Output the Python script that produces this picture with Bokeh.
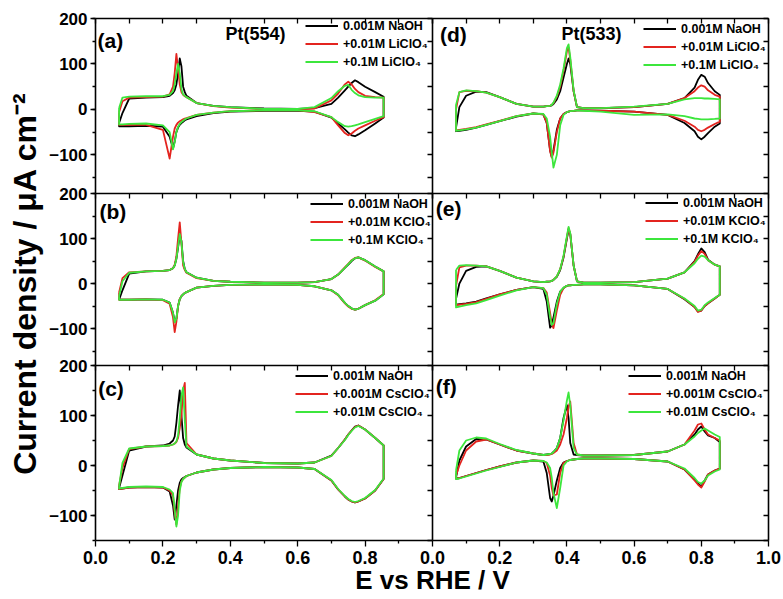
import math
from bokeh.plotting import figure
from bokeh.models import (Range1d, LinearAxis, SingleIntervalTicker, FixedTicker,
                          NumeralTickFormatter, Legend, LegendItem)
from bokeh.core.properties import value
from bokeh.embed import file_html
from bokeh.resources import INLINE

# ---------------- data (potential in V vs RHE, current density in uA cm-2) -------------
pot_554 = [0.07, 0.08, 0.10, 0.15, 0.20, 0.22, 0.23, 0.235, 0.24, 0.245, 0.25, 0.255, 0.26, 0.265,
           0.27, 0.30, 0.35, 0.40, 0.50, 0.60, 0.65, 0.70, 0.72, 0.74, 0.75, 0.76, 0.77, 0.78,
           0.80, 0.83, 0.855]
pot_533 = [0.07, 0.08, 0.10, 0.13, 0.16, 0.20, 0.25, 0.30, 0.33, 0.34, 0.35, 0.355, 0.36, 0.37,
           0.38, 0.39, 0.40, 0.405, 0.41, 0.42, 0.43, 0.45, 0.50, 0.60, 0.70, 0.75, 0.78, 0.79,
           0.80, 0.81, 0.82, 0.84, 0.855]

# (a) Pt(554) + LiClO4
a_naoh_up = [-30, -8, 24, 26, 27, 30, 36, 42, 55, 80, 112, 95, 50, 38, 30, 14, 8, 5, 2, 1, 3, 12, 26, 42, 50, 58, 64, 60, 50, 38, 28]
a_naoh_dn = [-37, -37, -37, -36, -38, -60, -86, -70, -50, -40, -34, -30, -27, -24, -22, -15, -8, -5, -3, -3, -5, -18, -31, -44, -51, -57, -59, -55, -46, -31, -18]
a_li001_up = [-6, 18, 26, 27, 28, 33, 50, 80, 122, 90, 55, 38, 32, 29, 27, 14, 7, 4, 1, 0, 2, 20, 35, 55, 61, 55, 45, 38, 30, 27, 26]
a_li001_dn = [-34, -34, -34, -34, -45, -108, -60, -42, -34, -29, -26, -24, -22, -20, -19, -12, -7, -4, -2, -2, -6, -17, -35, -52, -57, -53, -47, -42, -35, -25, -17]
a_li01_up = [3, 26, 28, 29, 29, 32, 40, 55, 80, 100, 80, 45, 33, 30, 27, 14, 8, 5, 1, 1, 5, 25, 40, 52, 54, 43, 36, 31, 27, 26, 26]
a_li01_dn = [-33, -33, -32, -31, -35, -50, -88, -72, -50, -38, -32, -28, -25, -22, -20, -12, -7, -4, -2, -2, -4, -17, -28, -37, -38, -37, -35, -33, -28, -21, -15]

# (b) Pt(554) + KClO4
b_naoh_up = [-36, -15, 22, 27, 28, 30, 34, 40, 55, 80, 108, 95, 50, 32, 25, 13, 6, 4, 2, 2, 3, 10, 20, 35, 42, 50, 56, 58, 52, 38, 27]
b_naoh_dn = [-36, -36, -36, -35, -36, -42, -65, -85, -78, -50, -35, -28, -24, -21, -19, -9, -5, -3, -2, -3, -6, -15, -25, -43, -50, -55, -58, -56, -48, -38, -24]
b_k001_up = [-20, 12, 25, 27, 28, 30, 34, 42, 60, 100, 136, 90, 40, 30, 24, 12, 6, 4, 2, 2, 3, 10, 20, 36, 44, 52, 57, 58, 51, 37, 27]
b_k001_dn = [-36, -36, -36, -35, -37, -45, -75, -108, -85, -50, -34, -28, -24, -21, -19, -9, -5, -3, -2, -3, -6, -15, -26, -44, -51, -56, -58, -56, -48, -37, -23]
b_k01_up = [-28, 5, 24, 27, 28, 30, 34, 40, 55, 82, 110, 92, 48, 32, 25, 13, 6, 4, 2, 2, 3, 10, 20, 35, 43, 51, 56, 58, 52, 38, 27]
b_k01_dn = [-36, -36, -36, -35, -36, -42, -65, -86, -78, -50, -35, -28, -24, -21, -19, -9, -5, -3, -2, -3, -6, -15, -25, -43, -50, -55, -58, -56, -48, -38, -24]

# (c) Pt(554) + CsClO4
c_naoh_up = [-45, -20, 30, 38, 40, 44, 50, 58, 85, 120, 150, 100, 55, 42, 36, 22, 14, 10, 5, 4, 6, 20, 35, 52, 62, 70, 78, 80, 72, 55, 40]
c_naoh_dn = [-47, -46, -44, -43, -44, -52, -80, -108, -80, -50, -35, -28, -25, -23, -21, -14, -8, -5, -3, -4, -7, -30, -48, -62, -68, -72, -74, -72, -66, -50, -27]
c_cs0001_up = [-40, -5, 33, 38, 39, 40, 42, 44, 47, 55, 75, 100, 150, 165, 45, 22, 14, 10, 5, 4, 6, 19, 35, 52, 62, 70, 77, 80, 72, 55, 40]
c_cs0001_dn = [-47, -46, -44, -43, -44, -50, -60, -95, -118, -80, -45, -32, -27, -24, -21, -14, -8, -5, -3, -4, -7, -30, -48, -62, -68, -72, -74, -72, -66, -50, -27]
c_cs001_up = [-42, 5, 34, 38, 39, 40, 42, 44, 48, 60, 95, 140, 156, 90, 38, 22, 14, 10, 5, 4, 6, 19, 35, 51, 61, 69, 76, 79, 72, 55, 40]
c_cs001_dn = [-46, -45, -43, -42, -43, -48, -55, -88, -122, -100, -50, -33, -27, -24, -21, -14, -8, -5, -3, -4, -7, -29, -47, -61, -67, -71, -73, -71, -65, -49, -26]

# (d) Pt(533) + LiClO4
d_naoh_up = [-40, 5, 30, 39, 38, 27, 12, 6, 6, 7, 8, 9, 12, 22, 40, 70, 100, 112, 100, 40, 5, 3, 3, 5, 12, 25, 48, 65, 76, 72, 58, 40, 32]
d_naoh_dn = [-48, -47, -45, -40, -34, -26, -16, -9, -11, -30, -90, -105, -90, -45, -20, -10, -6, -5, -4, -3, -2, -2, -3, -5, -12, -30, -48, -60, -66, -60, -52, -38, -31]
d_li001_up = [0, 38, 41, 40, 37, 27, 12, 6, 6, 7, 8, 10, 14, 28, 50, 85, 128, 136, 110, 40, 5, 3, 3, 5, 12, 25, 40, 48, 53, 50, 42, 32, 28]
d_li001_dn = [-46, -45, -43, -39, -33, -25, -15, -9, -11, -30, -92, -106, -95, -50, -20, -10, -6, -5, -4, -3, -2, -2, -3, -5, -12, -25, -38, -45, -48, -45, -40, -32, -27]
d_li01_up = [10, 38, 42, 40, 37, 27, 12, 6, 6, 7, 8, 10, 15, 30, 55, 90, 135, 143, 115, 42, 5, 3, 3, 6, 12, 22, 25, 25, 25, 24, 24, 23, 22]
d_li01_dn = [-47, -46, -44, -40, -34, -26, -15, -9, -10, -20, -60, -95, -128, -100, -35, -12, -6, -5, -4, -3, -2, -3, -5, -12, -11, -15, -20, -21, -22, -22, -22, -21, -20]

# (e) Pt(533) + KClO4
e_naoh_up = [-34, 0, 28, 37, 38, 28, 13, 5, 3, 4, 5, 6, 8, 15, 30, 58, 100, 120, 110, 40, 5, 2, 2, 3, 11, 25, 50, 65, 78, 70, 53, 42, 38]
e_naoh_dn = [-47, -46, -44, -40, -33, -24, -14, -8, -12, -40, -98, -92, -75, -40, -18, -10, -5, -4, -4, -3, -3, -2, -2, -4, -12, -35, -52, -62, -60, -50, -44, -33, -25]
e_k001_up = [-5, 36, 40, 40, 38, 28, 13, 5, 3, 4, 5, 6, 8, 16, 32, 60, 102, 123, 110, 40, 5, 2, 2, 3, 11, 25, 48, 62, 72, 66, 52, 42, 38]
e_k001_dn = [-48, -47, -45, -41, -34, -24, -14, -8, -10, -20, -65, -90, -99, -60, -25, -10, -5, -4, -4, -3, -3, -2, -2, -4, -12, -34, -52, -63, -60, -50, -44, -33, -25]
e_k01_up = [30, 40, 41, 40, 38, 28, 13, 5, 3, 4, 5, 6, 8, 16, 32, 62, 105, 126, 112, 40, 5, 2, 2, 3, 11, 25, 45, 55, 62, 60, 52, 42, 38]
e_k01_dn = [-53, -51, -48, -44, -37, -27, -15, -8, -10, -25, -75, -92, -88, -45, -18, -9, -5, -4, -4, -3, -3, -2, -2, -4, -12, -33, -50, -60, -58, -48, -42, -32, -25]

# (f) Pt(533) + CsClO4
f_naoh_up = [-24, 10, 38, 53, 52, 42, 30, 24, 21, 22, 23, 24, 27, 35, 55, 95, 121, 95, 45, 22, 21, 20, 20, 21, 28, 42, 62, 72, 78, 68, 60, 55, 47]
f_naoh_dn = [-26, -25, -21, -15, -9, -2, 6, 10, 8, -15, -65, -72, -60, -30, -5, 6, 9, 10, 11, 12, 13, 14, 14, 13, 8, -8, -28, -36, -42, -30, -18, -10, -6]
f_cs0001_up = [-20, 0, 30, 48, 52, 42, 30, 24, 21, 21, 22, 23, 25, 30, 42, 62, 95, 118, 128, 45, 22, 20, 20, 21, 28, 42, 70, 82, 84, 72, 62, 55, 50]
f_cs0001_dn = [-26, -25, -21, -15, -9, -2, 6, 10, 9, 5, -20, -45, -60, -58, -15, 5, 9, 10, 11, 12, 13, 14, 14, 13, 8, -8, -30, -38, -44, -32, -18, -10, -6]
f_cs001_up = [-10, 30, 50, 56, 54, 43, 31, 24, 21, 22, 23, 24, 27, 35, 55, 90, 130, 146, 120, 35, 22, 20, 20, 21, 28, 42, 58, 65, 70, 74, 70, 62, 57]
f_cs001_dn = [-27, -26, -22, -16, -10, -3, 6, 10, 9, 6, -5, -25, -55, -85, -45, 0, 8, 10, 11, 12, 13, 14, 14, 13, 8, -6, -25, -33, -36, -30, -20, -12, -8]

leg_li = ["0.001M NaOH", "+0.01M LiClO\u2084", "+0.1M LiClO\u2084"]
leg_k = ["0.001M NaOH", "+0.01M KClO\u2084", "+0.1M KClO\u2084"]
leg_cs = ["0.001M NaOH", "+0.001M CsClO\u2084", "+0.01M CsClO\u2084"]

x_ticks_left = [0.0, 0.2, 0.4, 0.6, 0.8]
x_ticks_right = [0.0, 0.2, 0.4, 0.6, 0.8, 1.0]
x_minor = [0.1, 0.3, 0.5, 0.7, 0.9]

y_title = "Current density / \u03bcA cm\u207b\u00b2"
x_title = "E vs RHE / V"

# ---------------- styling / geometry --------------------------------------------------
FONT = "Liberation Sans"
COLORS = ["#000000", "#e3241f", "#3ce63c"]
W, H = 783, 599
# the frame covers the whole canvas; every panel gets its own pair of ranges
COLS = {"xl": (95, 432), "xr": (432, 768)}  # pixel span of E = 0 .. 1 V
ROWS = {"ya": (18, 193, 200, -185), "yb": (193, 365, 200, -182), "yc": (365, 540, 200, -150)}


def x_span(px0, px1):
    s = float(px1 - px0)
    return Range1d(-px0 / s, 1.0 + (W - px1) / s)


def y_span(pt, pb, vt, vb):
    s = (pb - pt) / float(vt - vb)
    return Range1d(vb - (H - pb) / s, vt + pt / s)


p = figure(width=W, height=H, x_range=Range1d(0, W), y_range=Range1d(0, H),
           x_axis_location=None, y_axis_location=None, toolbar_location=None,
           output_backend="svg", min_border=0)
p.xgrid.visible = False
p.ygrid.visible = False
p.outline_line_color = None
p.background_fill_color = "white"
p.border_fill_color = "white"
p.extra_x_ranges = {k: x_span(*v) for k, v in COLS.items()}
p.extra_y_ranges = {k: y_span(*v) for k, v in ROWS.items()}


def style_axis(ax, labels=True):
    ax.axis_line_color = "black"
    ax.axis_line_width = 1.6
    ax.major_tick_line_color = "black"
    ax.major_tick_line_width = 1.3
    ax.minor_tick_line_color = "black"
    ax.minor_tick_line_width = 1.3
    ax.major_tick_in = 0
    ax.minor_tick_in = 0
    ax.minor_tick_out = 0
    ax.major_label_text_font = FONT
    ax.major_label_text_font_style = "bold"
    ax.major_label_text_font_size = "17px"
    ax.major_label_text_color = "black" if labels else None
    ax.major_label_standoff = 3


def panel_axes(xn, yn, left, bottom):
    _, _, vt, vb = ROWS[yn]
    top = LinearAxis(x_range_name=xn, y_range_name=yn, fixed_location=vt, bounds=(0, 1),
                     ticker=SingleIntervalTicker(interval=0.1, num_minor_ticks=0))
    style_axis(top, labels=False)
    top.major_tick_in = 5
    top.major_tick_out = 0
    p.add_layout(top, "above")

    right = LinearAxis(x_range_name=xn, y_range_name=yn, fixed_location=1, bounds=(vb, vt),
                       ticker=SingleIntervalTicker(interval=50, num_minor_ticks=0))
    style_axis(right, labels=False)
    right.major_tick_in = 5
    right.major_tick_out = 0
    p.add_layout(right, "right")

    if left:
        la = LinearAxis(x_range_name=xn, y_range_name=yn, fixed_location=0, bounds=(vb, vt),
                        ticker=SingleIntervalTicker(interval=100, num_minor_ticks=2))
        style_axis(la)
        la.major_tick_out = 5
        la.minor_tick_out = 3
        p.add_layout(la, "left")

    if bottom:
        ticks = x_ticks_left if xn == "xl" else x_ticks_right
        ba = LinearAxis(x_range_name=xn, y_range_name=yn, fixed_location=vb, bounds=(0, 1),
                        ticker=FixedTicker(ticks=ticks, minor_ticks=x_minor),
                        formatter=NumeralTickFormatter(format="0.0"))
        style_axis(ba)
        ba.major_label_text_font_size = "18px"
        ba.major_tick_out = 6
        ba.minor_tick_out = 3
        ba.major_label_standoff = 4
        p.add_layout(ba, "below")


panels = [
    ("xl", "ya", pot_554, [(a_naoh_up, a_naoh_dn), (a_li001_up, a_li001_dn), (a_li01_up, a_li01_dn)],
     leg_li, (305, 530), "(a)", (0.006, 152)),
    ("xl", "yb", pot_554, [(b_naoh_up, b_naoh_dn), (b_k001_up, b_k001_dn), (b_k01_up, b_k01_dn)],
     leg_k, (310, 352), "(b)", (0.012, 160)),
    ("xl", "yc", pot_554, [(c_naoh_up, c_naoh_dn), (c_cs0001_up, c_cs0001_dn), (c_cs001_up, c_cs001_dn)],
     leg_cs, (295, 180), "(c)", (0.008, 154)),
    ("xr", "ya", pot_533, [(d_naoh_up, d_naoh_dn), (d_li001_up, d_li001_dn), (d_li01_up, d_li01_dn)],
     leg_li, (643, 527), "(d)", (0.022, 165)),
    ("xr", "yb", pot_533, [(e_naoh_up, e_naoh_dn), (e_k001_up, e_k001_dn), (e_k01_up, e_k01_dn)],
     leg_k, (645, 353), "(e)", (0.01, 167)),
    ("xr", "yc", pot_533, [(f_naoh_up, f_naoh_dn), (f_cs0001_up, f_cs0001_dn), (f_cs001_up, f_cs001_dn)],
     leg_cs, (628, 180), "(f)", (0.01, 158)),
]

for xn, yn, pot, curves, labels, loc, tag, tagpos in panels:
    renderers = []
    for (up, dn), col in zip(curves, COLORS):
        xs = pot + pot[::-1] + pot[:1]
        ys = up + dn[::-1] + up[:1]
        r = p.line(xs, ys, x_range_name=xn, y_range_name=yn, line_color=col,
                   line_width=1.8, line_join="round")
        renderers.append(r)
    leg = Legend(items=[LegendItem(label=lab, renderers=[r]) for lab, r in zip(labels, renderers)],
                 location=loc, glyph_width=33, glyph_height=15, label_height=15,
                 label_standoff=5, spacing=3, padding=0, margin=0,
                 border_line_color=None, background_fill_alpha=0,
                 label_text_font=FONT, label_text_font_style="bold",
                 label_text_font_size="12.5px", label_text_color="black")
    p.add_layout(leg)
    p.text(x=[tagpos[0]], y=[tagpos[1]], text=[tag], x_range_name=xn, y_range_name=yn,
           text_font=value(FONT), text_font_style="bold", text_font_size="21px",
           text_align="left", text_baseline="middle", text_color="black")
    panel_axes(xn, yn, left=(xn == "xl"), bottom=(yn == "yc"))

p.text(x=[0.475], y=[167], text=["Pt(554)"], x_range_name="xl", y_range_name="ya",
       text_font=value(FONT), text_font_style="bold", text_font_size="18px",
       text_align="center", text_baseline="middle", text_color="black")
p.text(x=[0.473], y=[165], text=["Pt(533)"], x_range_name="xr", y_range_name="ya",
       text_font=value(FONT), text_font_style="bold", text_font_size="18px",
       text_align="center", text_baseline="middle", text_color="black")

# axis titles (canvas-pixel coordinates of the default ranges)
p.text(x=[24], y=[H - 283], text=[y_title], angle=math.pi / 2,
       text_font=value(FONT), text_font_style="bold", text_font_size="32px",
       text_align="center", text_baseline="middle", text_color="black")
p.text(x=[432], y=[H - 579], text=[x_title],
       text_font=value(FONT), text_font_style="bold", text_font_size="26px",
       text_align="center", text_baseline="middle", text_color="black")

open("out.html", "w").write(file_html(p, INLINE))
